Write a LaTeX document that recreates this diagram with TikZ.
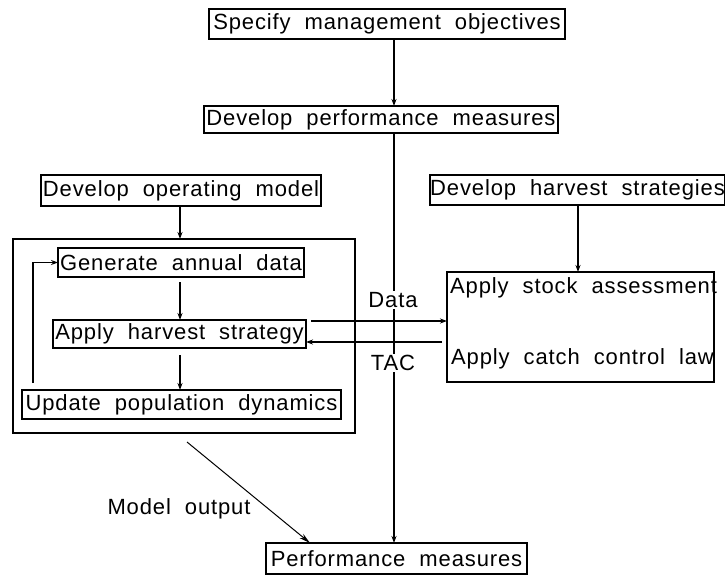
\documentclass[tikz,border=0pt]{standalone}
\usepackage{fontspec}
\setmainfont{Liberation Sans}[LetterSpace=4, WordSpace=2]
\usetikzlibrary{arrows.meta,calc}

\tikzset{
  box/.style={draw, line width=1.5pt, inner sep=0pt, outer sep=0pt},
  lbl/.style={inner sep=1pt, font=\fontsize{22}{24}\selectfont},
  arr/.style={line width=1.5pt, -{Stealth[length=7pt,width=5pt]}},
}

\begin{document}
\begin{tikzpicture}[x=1pt, y=-1pt, font=\fontsize{22}{24}\selectfont]
  \useasboundingbox (0,0) rectangle (725,577);

  % boxes
  \node[box, minimum width=356pt, minimum height=30pt] (spec)  at (387,24)    {Specify management objectives};
  \node[box, minimum width=354pt, minimum height=27pt] (devpm) at (381,119.5) {Develop performance measures};
  \node[box, minimum width=280pt, minimum height=31pt] (devom) at (181,190.5) {Develop operating model};
  \node[box, minimum width=291pt, minimum height=30pt] (devhs) at (577.5,190) {Develop harvest strategies};
  \node[box, minimum width=342pt, minimum height=194pt] (outer) at (184,336) {};
  \node[box, minimum width=246pt, minimum height=29pt] (gen)   at (181,262.5) {Generate annual data};
  \node[box, minimum width=253pt, minimum height=28pt] (ahs)   at (179.5,334) {Apply harvest strategy};
  \node[box, minimum width=319pt, minimum height=29pt] (upd)   at (181.5,404.5) {Update population dynamics};
  \node[box, minimum width=267pt, minimum height=110pt] (asmt) at (580.5,327) {};
  \node[box, minimum width=261pt, minimum height=31pt] (perf)  at (396.5,558.5) {Performance measures};

  \node[lbl, anchor=west] (stock) at ($(asmt.north west)+(2,16)$) {Apply stock assessment};
  \node[lbl, anchor=west] (ccl)   at ($(asmt.north west)+(3,87)$) {Apply catch control law};

  % vertical guide lines
  \coordinate (vx) at (394,0);
  \coordinate (ox) at (180,0);
  \coordinate (hx) at (578,0);
  \coordinate (fx) at (33,0);

  % objectives and performance measures
  \draw[arr] (spec.south -| vx) -- (devpm.north -| vx);
  \draw[arr] (devpm.south -| vx) -- (perf.north -| vx);
  \node[lbl, fill=white] (data) at (393,300) {Data};
  \node[lbl, fill=white] (tac)  at (393,363) {TAC};

  % operating model loop
  \draw[arr] (devom.south -| ox) -- (outer.north -| ox);
  \draw[arr, shorten <=5pt] (gen.south -| ox) -- (ahs.north -| ox);
  \draw[arr, shorten <=7pt] (ahs.south -| ox) -- (upd.north -| ox);
  \draw[arr, shorten <=7pt] (upd.north -| fx) |- (gen.west);

  % harvest strategy exchange
  \draw[arr] (devhs.south -| hx) -- (asmt.north -| hx);
  \draw[arr, shorten <=5pt] ($(ahs.east)+(0,-13)$) -- ($(asmt.west)+(0,-6)$);
  \draw[arr, shorten <=5pt] ($(asmt.west)+(0,15)$) -- ($(ahs.east)+(0,8)$);

  % model output
  \draw[line width=1pt, -{Stealth[length=11pt,width=5.5pt]}]
    ($(outer.south west)+(174,9)$) -- ($(perf.north west)+(44,0)$);
  \node[lbl] (mout) at (179,509) {Model output};
\end{tikzpicture}
\end{document}
